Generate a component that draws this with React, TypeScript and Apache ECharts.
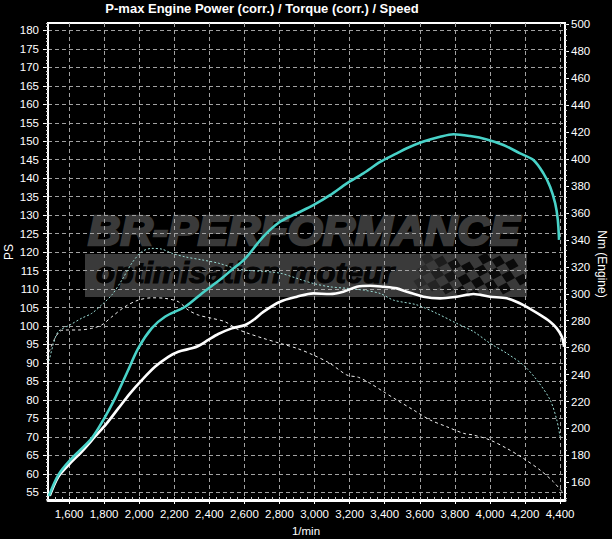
import React, { useEffect, useRef } from "react";
import * as echarts from "echarts";

// ---- axis tick labels ----
const rpmTicks = [1600, 1800, 2000, 2200, 2400, 2600, 2800, 3000, 3200, 3400, 3600, 3800, 4000, 4200, 4400];
const psTicks = [55, 60, 65, 70, 75, 80, 85, 90, 95, 100, 105, 110, 115, 120, 125, 130, 135, 140, 145, 150, 155, 160, 165, 170, 175, 180];
const nmTicks = [160, 180, 200, 220, 240, 260, 280, 300, 320, 340, 360, 380, 400, 420, 440, 460, 480, 500];

// ---- power (PS, solid cyan) ----
const powerRpm = [1485, 1539, 1606, 1729, 1796, 1862, 1929, 1995, 2072, 2147, 2262, 2357, 2471, 2530, 2600, 2708, 2803, 2899, 2993, 3088, 3184, 3278, 3374, 3469, 3526, 3621, 3716, 3792, 3887, 3982, 4077, 4172, 4248, 4305, 4343, 4372, 4387, 4394];
const powerPs = [54.0, 59.7, 63.7, 69.6, 74.6, 80.4, 87.2, 94.0, 99.4, 102.5, 105.2, 108.8, 112.9, 115.3, 118.0, 124.2, 128.2, 130.5, 132.7, 135.4, 138.6, 141.3, 144.4, 146.7, 148.1, 149.9, 151.2, 151.9, 151.4, 150.5, 149.0, 146.7, 144.9, 141.3, 137.7, 133.2, 128.7, 123.3];

// ---- torque (Nm, solid white) ----
const torqueRpm = [1490, 1539, 1606, 1672, 1748, 1815, 1881, 1948, 2015, 2090, 2166, 2223, 2300, 2337, 2394, 2451, 2528, 2604, 2651, 2708, 2803, 2899, 2993, 3088, 3164, 3241, 3317, 3393, 3469, 3526, 3621, 3716, 3811, 3906, 4001, 4096, 4191, 4286, 4343, 4381, 4410, 4423];
const torqueNm = [150.0, 164.2, 174.1, 182.7, 193.9, 203.8, 214.9, 226.1, 235.9, 245.8, 253.2, 257.0, 259.5, 261.2, 265.7, 270.1, 274.3, 276.8, 280.5, 286.6, 294.1, 297.8, 300.3, 299.8, 301.5, 305.2, 306.0, 305.2, 304.0, 301.5, 297.8, 296.6, 297.8, 299.8, 297.8, 296.6, 291.6, 284.3, 279.2, 274.3, 268.1, 260.7];

// ---- reference power (PS, dashed cyan) ----
const refPowerRpm = [1486, 1510, 1539, 1606, 1672, 1729, 1786, 1844, 1901, 1958, 2015, 2072, 2129, 2186, 2262, 2357, 2451, 2547, 2604, 2700, 2803, 2899, 2993, 3088, 3184, 3278, 3374, 3450, 3584, 3697, 3811, 3906, 4001, 4096, 4191, 4267, 4343, 4381, 4400];
const refPowerPs = [90.5, 95.0, 98.5, 100.3, 102.1, 103.4, 105.7, 108.4, 112.4, 117.0, 120.1, 121.0, 120.8, 119.7, 118.7, 117.9, 117.0, 115.6, 115.1, 114.8, 114.3, 112.9, 111.5, 110.6, 110.2, 109.7, 108.8, 107.0, 105.7, 103.4, 100.7, 98.5, 95.3, 92.6, 89.4, 85.4, 80.0, 74.6, 70.0];

// ---- reference torque (Nm, dashed white) ----
const refTorqueRpm = [1486, 1520, 1549, 1577, 1653, 1729, 1786, 1844, 1919, 1995, 2072, 2147, 2223, 2280, 2337, 2414, 2490, 2556, 2613, 2708, 2803, 2899, 2993, 3088, 3184, 3250, 3317, 3393, 3469, 3564, 3659, 3754, 3849, 3906, 4001, 4096, 4191, 4286, 4362, 4419];
const refTorqueNm = [256.7, 267.1, 272.3, 273.1, 273.1, 274.3, 276.8, 282.9, 290.4, 295.3, 297.0, 296.6, 294.1, 287.9, 284.2, 281.8, 279.2, 274.0, 271.0, 266.9, 263.2, 259.5, 254.5, 248.3, 239.7, 238.0, 233.5, 227.3, 221.1, 213.7, 206.3, 201.3, 196.4, 195.1, 191.4, 185.2, 177.8, 169.1, 160.4, 151.8];

const X_MIN = 1480;
const X_MAX = 4428;
const PS_MIN = 52.9;
const PS_MAX = 182;
const NM_MIN = 146.9;
const NM_MAX = 501;

const FONT = "'Liberation Sans', Arial, sans-serif";

function range(a: number, b: number, step: number): number[] {
  const out: number[] = [];
  for (let v = a; v <= b + 1e-9; v += step) out.push(Math.round(v * 1000) / 1000);
  return out;
}

function zip(xs: number[], ys: number[]): number[][] {
  return xs.map((x, i) => [x, ys[i]]);
}

function checkerFlag(): any[] {
  const els: any[] = [];
  const ox = 400, oy = 278;
  const u = [8.5, -4.5];
  const v = [5, 7.5];
  for (let i = 0; i < 20; i++) {
    for (let j = -7; j < 7; j++) {
      if ((i + j) % 2 !== 0) continue;
      const x0 = ox + i * u[0] + j * v[0];
      const y0 = oy + i * u[1] + j * v[1];
      const cx = x0 + (u[0] + v[0]) / 2;
      const cy = y0 + (u[1] + v[1]) / 2;
      if (cx < 414 || cx > 525 || cy < 256 || cy > 296) continue;
      const op = Math.min(1, Math.max(0.3, (cx - 408) / 55));
      els.push({
        type: "polygon",
        z: -4,
        silent: true,
        shape: {
          points: [
            [x0, y0],
            [x0 + u[0], y0 + u[1]],
            [x0 + u[0] + v[0], y0 + u[1] + v[1]],
            [x0 + v[0], y0 + v[1]],
          ],
        },
        style: { fill: "#0a0a0a", opacity: op },
      });
    }
  }
  return els;
}

export default function App() {
  const ref = useRef<HTMLDivElement>(null);
  useEffect(() => {
    if (!ref.current) return;
    const chart = echarts.init(ref.current, undefined, { renderer: "svg" });
    const gridLine = { show: true, lineStyle: { color: "#a2a2a2", width: 1, type: [4, 3] as any } };
    const labelStyle = { color: "#ffffff", fontSize: 11.5, fontFamily: FONT };
    const option: any = {
      animation: false,
      backgroundColor: "#000000",
      grid: {
        left: 48,
        right: 47,
        top: 23,
        bottom: 39,
        show: true,
        borderColor: "#ffffff",
        borderWidth: 2,
        backgroundColor: "transparent",
      },
      xAxis: [
        {
          type: "value",
          min: X_MIN,
          max: X_MAX,
          position: "bottom",
          axisLine: { show: true, lineStyle: { color: "#ffffff", width: 3 } },
          axisTick: { show: true, customValues: rpmTicks, length: 4, lineStyle: { color: "#ffffff" } },
          axisLabel: {
            ...labelStyle,
            customValues: rpmTicks,
            margin: 8,
            formatter: (v: number) => v.toLocaleString("en-US"),
          },
          splitLine: gridLine,
        },
        {
          type: "value",
          min: X_MIN,
          max: X_MAX,
          position: "bottom",
          axisLine: { show: false },
          axisTick: { show: true, inside: true, customValues: range(1520, 4400, 40), length: 3, lineStyle: { color: "#cfcfcf" } },
          axisLabel: { show: false },
          splitLine: { show: false },
        },
      ],
      yAxis: [
        {
          type: "value",
          min: PS_MIN,
          max: PS_MAX,
          position: "left",
          axisLine: { show: true, lineStyle: { color: "#ffffff", width: 2 } },
          axisTick: { show: true, customValues: psTicks, length: 5, lineStyle: { color: "#ffffff" } },
          axisLabel: { ...labelStyle, customValues: psTicks, margin: 9 },
          splitLine: gridLine,
        },
        {
          type: "value",
          min: NM_MIN,
          max: NM_MAX,
          position: "right",
          axisLine: { show: true, lineStyle: { color: "#ffffff", width: 2 } },
          axisTick: { show: true, customValues: nmTicks, length: 4, lineStyle: { color: "#ffffff" } },
          axisLabel: { ...labelStyle, customValues: nmTicks, margin: 6 },
          splitLine: { show: false },
        },
        {
          type: "value",
          min: PS_MIN,
          max: PS_MAX,
          position: "left",
          axisLine: { show: false },
          axisTick: { show: true, customValues: range(53, 182, 1), length: 2, lineStyle: { color: "#d0d0d0" } },
          axisLabel: { show: false },
          splitLine: { show: false },
        },
        {
          type: "value",
          min: NM_MIN,
          max: NM_MAX,
          position: "right",
          axisLine: { show: false },
          axisTick: { show: true, customValues: range(148, 500, 4), length: 2, lineStyle: { color: "#d0d0d0" } },
          axisLabel: { show: false },
          splitLine: { show: false },
        },
      ],
      graphic: [
        {
          type: "text",
          z: -5,
          silent: true,
          x: 88,
          y: 231,
          scaleX: 1.07,
          style: {
            text: "BR-PERFORMANCE",
            fill: "#3a3a3a",
            stroke: "#3a3a3a",
            lineWidth: 2.5,
            font: `italic 900 42px ${FONT}`,
            textAlign: "left",
            textVerticalAlign: "middle",
          },
        },
        {
          type: "rect",
          z: -6,
          silent: true,
          shape: { x: 85, y: 254, width: 442, height: 43 },
          style: { fill: "#3a3a3a" },
        },
        {
          type: "text",
          z: -4,
          silent: true,
          x: 96,
          y: 273,
          scaleX: 1.07,
          style: {
            text: "optimisation moteur",
            fill: "#050505",
            stroke: "#050505",
            lineWidth: 1.2,
            font: `italic bold 29px ${FONT}`,
            textAlign: "left",
            textVerticalAlign: "middle",
          },
        },
        ...checkerFlag(),
        {
          type: "text",
          x: 262,
          y: 8,
          style: {
            text: "P-max Engine Power (corr.) / Torque (corr.) / Speed",
            fill: "#ffffff",
            font: `bold 13px ${FONT}`,
            textAlign: "center",
            textVerticalAlign: "middle",
          },
        },
        {
          type: "text",
          x: 9,
          y: 252,
          rotation: Math.PI / 2,
          style: {
            text: "PS",
            fill: "#ffffff",
            font: `12px ${FONT}`,
            textAlign: "center",
            textVerticalAlign: "middle",
          },
        },
        {
          type: "text",
          x: 602,
          y: 264,
          rotation: -Math.PI / 2,
          style: {
            text: "Nm (Engine)",
            fill: "#ffffff",
            font: `12px ${FONT}`,
            textAlign: "center",
            textVerticalAlign: "middle",
          },
        },
        {
          type: "text",
          x: 306,
          y: 531,
          style: {
            text: "1/min",
            fill: "#ffffff",
            font: `11.5px ${FONT}`,
            textAlign: "center",
            textVerticalAlign: "middle",
          },
        },
      ],
      series: [
        {
          name: "Reference torque",
          type: "line",
          xAxisIndex: 0,
          yAxisIndex: 1,
          data: zip(refTorqueRpm, refTorqueNm),
          symbol: "none",
          smooth: 0.3,
          lineStyle: { color: "#f0f0f0", width: 1, type: [3, 3] },
          z: 3,
        },
        {
          name: "Reference power",
          type: "line",
          xAxisIndex: 0,
          yAxisIndex: 0,
          data: zip(refPowerRpm, refPowerPs),
          symbol: "none",
          smooth: 0.3,
          lineStyle: { color: "#9adcd5", width: 1, type: [2, 2] },
          z: 3,
        },
        {
          name: "Torque",
          type: "line",
          xAxisIndex: 0,
          yAxisIndex: 1,
          data: zip(torqueRpm, torqueNm),
          symbol: "none",
          smooth: 0.3,
          lineStyle: { color: "#ffffff", width: 2.6 },
          z: 4,
        },
        {
          name: "Power",
          type: "line",
          xAxisIndex: 0,
          yAxisIndex: 0,
          data: zip(powerRpm, powerPs),
          symbol: "none",
          smooth: 0.3,
          lineStyle: { color: "#48d2c8", width: 2.6 },
          z: 5,
        },
      ],
    };
    chart.setOption(option);
    return () => chart.dispose();
  }, []);
  return (
    <div
      ref={ref}
      style={{ position: "fixed", left: 0, top: 0, width: 612, height: 539, background: "#000" }}
    />
  );
}
